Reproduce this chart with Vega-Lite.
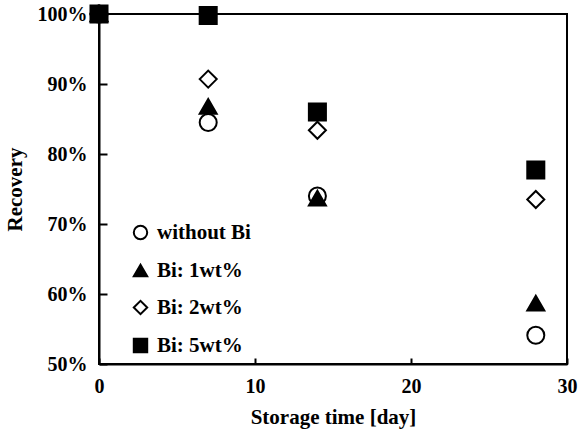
{
  "$schema": "https://vega.github.io/schema/vega-lite/v6.json",
  "width": 468,
  "height": 350,
  "autosize": "none",
  "padding": {"left": 99, "top": 14, "right": 19, "bottom": 73},
  "background": "white",
  "config": {
    "font": "Liberation Serif",
    "view": {"stroke": "black", "strokeWidth": 2},
    "axis": {
      "domainColor": "black", "domainWidth": 2, "tickColor": "black", "tickWidth": 2,
      "labelFont": "Liberation Serif", "labelFontWeight": "bold", "labelFontSize": 20, "labelColor": "black",
      "titleFont": "Liberation Serif", "titleFontWeight": "bold", "titleFontSize": 21, "titleColor": "black",
      "grid": false
    },
    "legend": {
      "labelFont": "Liberation Serif", "labelFontWeight": "bold", "labelFontSize": 21, "labelColor": "black",
      "symbolStrokeWidth": 2
    }
  },
  "data": {
    "values": [
      {"series": "without Bi", "day": 0, "recovery": 1.0},
      {"series": "without Bi", "day": 7, "recovery": 0.845},
      {"series": "without Bi", "day": 14, "recovery": 0.74},
      {"series": "without Bi", "day": 28, "recovery": 0.541},
      {"series": "Bi: 1wt%", "day": 0, "recovery": 1.0},
      {"series": "Bi: 1wt%", "day": 7, "recovery": 0.868},
      {"series": "Bi: 1wt%", "day": 14, "recovery": 0.737},
      {"series": "Bi: 1wt%", "day": 28, "recovery": 0.587},
      {"series": "Bi: 2wt%", "day": 0, "recovery": 1.0},
      {"series": "Bi: 2wt%", "day": 7, "recovery": 0.907},
      {"series": "Bi: 2wt%", "day": 14, "recovery": 0.834},
      {"series": "Bi: 2wt%", "day": 28, "recovery": 0.735},
      {"series": "Bi: 5wt%", "day": 0, "recovery": 1.0},
      {"series": "Bi: 5wt%", "day": 7, "recovery": 0.998},
      {"series": "Bi: 5wt%", "day": 14, "recovery": 0.86},
      {"series": "Bi: 5wt%", "day": 28, "recovery": 0.777}
    ]
  },
  "mark": {"type": "point", "filled": true, "strokeWidth": 2, "size": 290, "opacity": 1},
  "encoding": {
    "x": {
      "field": "day", "type": "quantitative",
      "scale": {"domain": [0, 30], "nice": false, "zero": false},
      "axis": {"values": [0, 10, 20, 30], "title": "Storage time [day]", "tickSize": -6, "labelPadding": 18, "titlePadding": 10, "labelFlush": false}
    },
    "y": {
      "field": "recovery", "type": "quantitative",
      "scale": {"domain": [0.5, 1.0], "nice": false, "zero": false},
      "axis": {"values": [0.5, 0.6, 0.7, 0.8, 0.9, 1.0], "format": ".0%", "title": "Recovery", "tickSize": -8, "labelPadding": 20, "titlePadding": 12, "labelFlush": false}
    },
    "stroke": {
      "field": "series", "type": "nominal",
      "scale": {"domain": ["without Bi", "Bi: 1wt%", "Bi: 2wt%", "Bi: 5wt%"], "range": ["black", "black", "black", "black"]},
      "legend": {"title": null, "orient": "none", "legendX": 31, "legendY": 208, "rowPadding": 15, "symbolSize": 180, "labelOffset": 6, "symbolStrokeWidth": 2}
    },
    "shape": {
      "field": "series", "type": "nominal",
      "scale": {"domain": ["without Bi", "Bi: 1wt%", "Bi: 2wt%", "Bi: 5wt%"], "range": ["circle", "triangle-up", "diamond", "square"]},
      "legend": {"title": null, "orient": "none", "legendX": 31, "legendY": 208, "rowPadding": 15, "symbolSize": 180, "labelOffset": 6, "symbolStrokeWidth": 2}
    },
    "fill": {
      "field": "series", "type": "nominal",
      "scale": {"domain": ["without Bi", "Bi: 1wt%", "Bi: 2wt%", "Bi: 5wt%"], "range": ["white", "black", "white", "black"]},
      "legend": {"title": null, "orient": "none", "legendX": 31, "legendY": 208, "rowPadding": 15, "symbolSize": 180, "labelOffset": 6, "symbolStrokeWidth": 2}
    }
  }
}
